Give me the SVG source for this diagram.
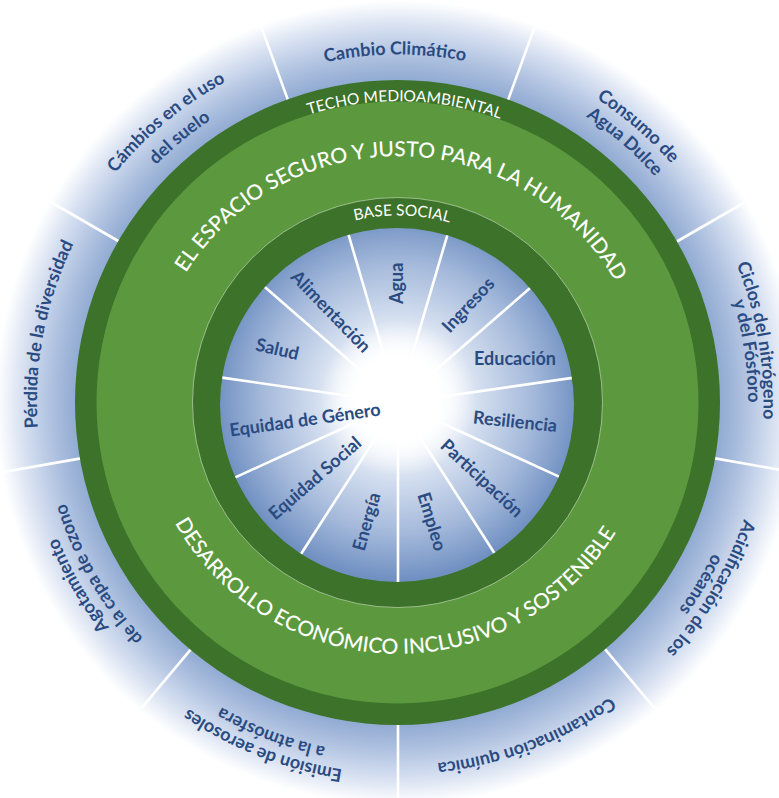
<svg xmlns="http://www.w3.org/2000/svg" width="779" height="798" viewBox="0 0 779 798">
<defs>
<radialGradient id="gOuter" gradientUnits="userSpaceOnUse" cx="398" cy="402.5" r="402">
<stop offset="0.78" stop-color="#87a3ce"/>
<stop offset="0.86" stop-color="#adc0df"/>
<stop offset="0.93" stop-color="#d4def0"/>
<stop offset="1" stop-color="#ffffff"/>
</radialGradient>
<radialGradient id="gInner" gradientUnits="userSpaceOnUse" cx="398" cy="398" r="182">
<stop offset="0" stop-color="#ffffff"/>
<stop offset="0.2" stop-color="#ffffff"/>
<stop offset="0.45" stop-color="#d3deef"/>
<stop offset="0.75" stop-color="#a3b8da"/>
<stop offset="1" stop-color="#7090c2"/>
</radialGradient>
<radialGradient id="gGlow" gradientUnits="userSpaceOnUse" cx="398" cy="398" r="78">
<stop offset="0" stop-color="#ffffff" stop-opacity="1"/>
<stop offset="0.55" stop-color="#ffffff" stop-opacity="0.95"/>
<stop offset="1" stop-color="#ffffff" stop-opacity="0"/>
</radialGradient>
<clipPath id="cDisk"><circle cx="397" cy="405" r="177"/></clipPath>
<path id="pTecho" d="M93.1,395.6 A305,305 0 0 1 702.9,409.4"/>
<path id="pEspacio" d="M147.1,397.2 A251,251 0 0 1 648.9,407.8"/>
<path id="pBase" d="M211.0,398.3 A187,187 0 0 1 585.0,406.7"/>
<path id="pDesarrollo" d="M142.1,397.1 A256,256 0 0 0 653.9,407.9"/>
<path id="pCambio" d="M50.0,405.5 A348,348 0 0 1 746.0,399.5"/>
<path id="pSuelo1" d="M117.5,634.5 A364,364 0 0 1 678.5,170.5"/>
<path id="pSuelo2" d="M132.6,621.3 A344,344 0 0 1 663.4,183.7"/>
<path id="pAgua1" d="M124.0,164.3 A363,363 0 0 1 672.0,640.7"/>
<path id="pAgua2" d="M138.4,176.8 A344,344 0 0 1 657.6,628.2"/>
<path id="pCiclos1" d="M335.2,38.9 A369,369 0 0 1 460.8,766.1"/>
<path id="pCiclos2" d="M346.9,56.2 A350,350 0 0 1 449.1,748.8"/>
<path id="pAcid1" d="M585.9,86.1 A368,368 0 0 1 210.1,718.9"/>
<path id="pAcid2" d="M577.7,103.3 A349,349 0 0 1 218.3,701.7"/>
<path id="pConta" d="M737.8,272.0 A364,364 0 0 1 58.2,533.0"/>
<path id="pEmis1" d="M743.2,538.5 A371,371 0 0 1 52.8,266.5"/>
<path id="pEmis2" d="M726.6,528.7 A352,352 0 0 1 69.4,276.3"/>
<path id="pAgot1" d="M579.9,720.1 A366,366 0 0 1 216.1,84.9"/>
<path id="pAgot2" d="M570.5,703.6 A347,347 0 0 1 225.5,101.4"/>
<path id="pPerd" d="M329.1,756.9 A361,361 0 0 1 466.9,48.1"/>
</defs>
<style>
.sep{stroke:#ffffff;stroke-width:2.6;fill:none}
.ring{font-family:Lato,"Liberation Sans",sans-serif;fill:#ffffff}
.big{font-size:21px;font-weight:500}
.small{font-size:15.5px;font-weight:400}
.pb{font-family:Lato,"Liberation Sans",sans-serif;font-size:18px;font-weight:700;fill:#2a4b82}
.sl{font-family:Lato,"Liberation Sans",sans-serif;font-size:18px;font-weight:700;fill:#2a4b82;text-anchor:middle}
</style>

<g id="outer-background">
<circle cx="398" cy="402.5" r="402" fill="url(#gOuter)"/>
</g>

<g id="outer-separators">
<line class="sep" x1="508.1" y1="99.9" x2="534.8" y2="26.6"/>
<line class="sep" x1="676.9" y1="241.5" x2="744.4" y2="202.5"/>
<line class="sep" x1="715.1" y1="458.4" x2="791.9" y2="471.9"/>
<line class="sep" x1="605" y1="649.2" x2="655.1" y2="708.9"/>
<line class="sep" x1="398" y1="724.5" x2="398" y2="802.5"/>
<line class="sep" x1="191" y1="649.2" x2="140.9" y2="708.9"/>
<line class="sep" x1="80.9" y1="458.4" x2="4.1" y2="471.9"/>
<line class="sep" x1="119.1" y1="241.5" x2="51.6" y2="202.5"/>
<line class="sep" x1="287.9" y1="99.9" x2="261.2" y2="26.6"/>
</g>

<g id="ceiling-ring">
<circle cx="397.5" cy="402.5" r="322.5" fill="#3c7229"/>
<circle cx="397.5" cy="402.5" r="301" fill="#5c993e"/>
<text class="ring small"><textPath href="#pTecho" startOffset="50%" text-anchor="middle">TECHO MEDIOAMBIENTAL</textPath></text>
</g>

<g id="safe-space">
<text class="ring big"><textPath href="#pEspacio" startOffset="50%" text-anchor="middle">EL ESPACIO SEGURO Y JUSTO PARA LA HUMANIDAD</textPath></text>
<text class="ring big"><textPath href="#pDesarrollo" startOffset="50%" text-anchor="middle">DESARROLLO ECONÓMICO INCLUSIVO Y SOSTENIBLE</textPath></text>
</g>

<g id="social-foundation">
<circle cx="397.5" cy="402.5" r="205" fill="#3c7229" stroke="#cfe0c4" stroke-opacity="0.7" stroke-width="0.9"/>
<text class="ring small"><textPath href="#pBase" startOffset="50%" text-anchor="middle">BASE SOCIAL</textPath></text>
<circle cx="397" cy="405" r="177" fill="url(#gInner)"/>
</g>

<g id="inner-separators" clip-path="url(#cDisk)">
<line class="sep" x1="398" y1="403" x2="448.6" y2="230.8"/>
<line class="sep" x1="398" y1="403" x2="533.2" y2="285.2"/>
<line class="sep" x1="398" y1="403" x2="575.6" y2="377.4"/>
<line class="sep" x1="398" y1="403" x2="561.2" y2="477.6"/>
<line class="sep" x1="398" y1="403" x2="495.0" y2="554.0"/>
<line class="sep" x1="398" y1="403" x2="398" y2="583"/>
<line class="sep" x1="398" y1="403" x2="301.0" y2="554.0"/>
<line class="sep" x1="398" y1="403" x2="234.8" y2="477.6"/>
<line class="sep" x1="398" y1="403" x2="220.4" y2="377.4"/>
<line class="sep" x1="398" y1="403" x2="262.8" y2="285.2"/>
<line class="sep" x1="398" y1="403" x2="347.4" y2="230.8"/>
</g>
<circle cx="398" cy="398" r="78" fill="url(#gGlow)"/>

<g id="social-labels">
<text class="sl" transform="translate(396.7,283.3) rotate(-90)" y="6">Agua</text>
<text class="sl" transform="translate(468.3,305) rotate(-47)" y="6">Ingresos</text>
<text class="sl" transform="translate(515,359.3)" y="6">Educación</text>
<text class="sl" transform="translate(515,421.7) rotate(6)" y="6">Resiliencia</text>
<text class="sl" transform="translate(481.7,478.3) rotate(43)" y="6">Participación</text>
<text class="sl" transform="translate(431.7,521.7) rotate(73)" y="6">Empleo</text>
<text class="sl" transform="translate(366.7,521.7) rotate(-74)" y="6">Energía</text>
<text class="sl" transform="translate(315,478.3) rotate(-41)" y="6">Equidad Social</text>
<text class="sl" transform="translate(305,420) rotate(-8)" y="6">Equidad de Género</text>
<text class="sl" transform="translate(277.3,349.3) rotate(13)" y="6">Salud</text>
<text class="sl" transform="translate(330.7,311.7) rotate(46)" y="6">Alimentación</text>
</g>

<g id="ceiling-labels">
<text class="pb"><textPath href="#pCambio" startOffset="50%" text-anchor="middle">Cambio Climático</textPath></text>
<text class="pb"><textPath href="#pSuelo1" startOffset="50%" text-anchor="middle">Cámbios en el uso</textPath></text>
<text class="pb"><textPath href="#pSuelo2" startOffset="50%" text-anchor="middle">del suelo</textPath></text>
<text class="pb"><textPath href="#pAgua1" startOffset="50%" text-anchor="middle">Consumo de</textPath></text>
<text class="pb"><textPath href="#pAgua2" startOffset="50%" text-anchor="middle">Agua Dulce</textPath></text>
<text class="pb"><textPath href="#pCiclos1" startOffset="50%" text-anchor="middle">Ciclos del nitrógeno</textPath></text>
<text class="pb"><textPath href="#pCiclos2" startOffset="50%" text-anchor="middle">y del Fósforo</textPath></text>
<text class="pb"><textPath href="#pAcid1" startOffset="50%" text-anchor="middle">Acidificación de los</textPath></text>
<text class="pb"><textPath href="#pAcid2" startOffset="50%" text-anchor="middle">océanos</textPath></text>
<text class="pb"><textPath href="#pConta" startOffset="50%" text-anchor="middle">Contaminación química</textPath></text>
<text class="pb"><textPath href="#pEmis1" startOffset="50%" text-anchor="middle">Emisión de aerosoles</textPath></text>
<text class="pb"><textPath href="#pEmis2" startOffset="50%" text-anchor="middle">a la atmósfera</textPath></text>
<text class="pb"><textPath href="#pAgot1" startOffset="50%" text-anchor="middle">Agotamiento</textPath></text>
<text class="pb"><textPath href="#pAgot2" startOffset="50%" text-anchor="middle">de la capa de ozono</textPath></text>
<text class="pb"><textPath href="#pPerd" startOffset="50%" text-anchor="middle">Pérdida de la diversidad</textPath></text>
</g>
</svg>
